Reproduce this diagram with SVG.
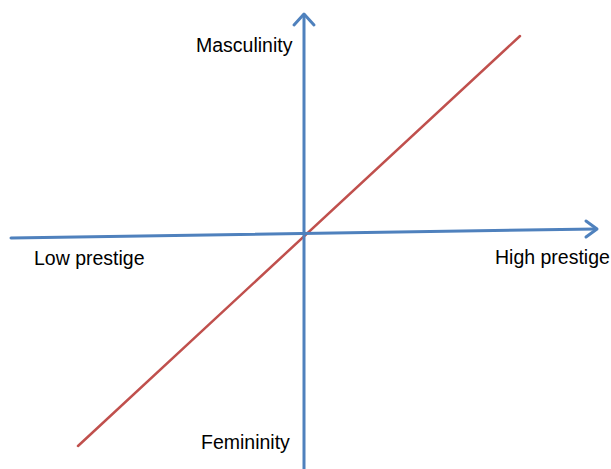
<svg xmlns="http://www.w3.org/2000/svg" width="611" height="469" viewBox="0 0 611 469">
<style>
.axis{stroke:#4f81bd;stroke-width:3;fill:none;stroke-linecap:round}
.head{stroke:#4f81bd;stroke-width:3;fill:none;stroke-linecap:round;stroke-linejoin:round}
.diag{stroke:#c0504d;stroke-width:2.5;fill:none;stroke-linecap:round}
text{font-family:"Liberation Sans",Arial,sans-serif;font-size:19.5px;fill:#000}
</style>
<rect width="611" height="469" fill="#fff"/>
<g id="connectors">
<line class="diag" x1="78" y1="446" x2="520" y2="36"/>
<line class="axis" x1="304" y1="469" x2="304" y2="15"/>
<polyline class="head" points="294,25 304,14 314,25"/>
<line class="axis" x1="11" y1="238" x2="596" y2="229"/>
<polyline class="head" points="586,221 597,229 586,237"/>
</g>
<g id="masculinity"><text x="196" y="52">Masculinity</text></g>
<g id="low-prestige"><text x="34" y="265">Low prestige</text></g>
<g id="high-prestige"><text x="495" y="264">High prestige</text></g>
<g id="femininity"><text x="201" y="449">Femininity</text></g>
</svg>
